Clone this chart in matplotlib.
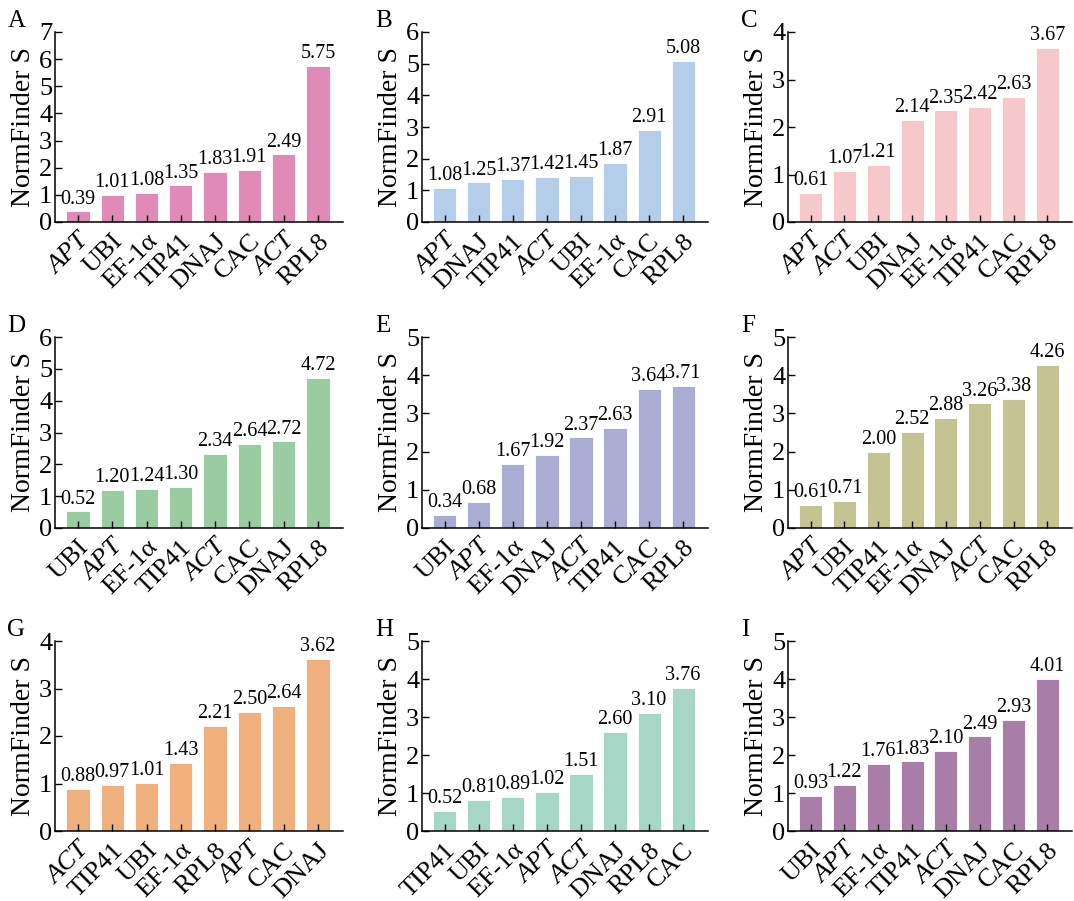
import matplotlib
matplotlib.use("Agg")
import matplotlib.pyplot as plt
from matplotlib.transforms import offset_copy

plt.rcParams['font.family'] = ['Liberation Serif', 'DejaVu Serif']
plt.rcParams['font.serif'] = ['Liberation Serif', 'DejaVu Serif']

panels = ['A', 'B', 'C', 'D', 'E', 'F', 'G', 'H', 'I']

genes_a = ['APT', 'UBI', 'EF-1α', 'TIP41', 'DNAJ', 'CAC', 'ACT', 'RPL8']
vals_a = [0.39, 1.01, 1.08, 1.35, 1.83, 1.91, 2.49, 5.75]
genes_b = ['APT', 'DNAJ', 'TIP41', 'ACT', 'UBI', 'EF-1α', 'CAC', 'RPL8']
vals_b = [1.08, 1.25, 1.37, 1.42, 1.45, 1.87, 2.91, 5.08]
genes_c = ['APT', 'ACT', 'UBI', 'DNAJ', 'EF-1α', 'TIP41', 'CAC', 'RPL8']
vals_c = [0.61, 1.07, 1.21, 2.14, 2.35, 2.42, 2.63, 3.67]
genes_d = ['UBI', 'APT', 'EF-1α', 'TIP41', 'ACT', 'CAC', 'DNAJ', 'RPL8']
vals_d = [0.52, 1.20, 1.24, 1.30, 2.34, 2.64, 2.72, 4.72]
genes_e = ['UBI', 'APT', 'EF-1α', 'DNAJ', 'ACT', 'TIP41', 'CAC', 'RPL8']
vals_e = [0.34, 0.68, 1.67, 1.92, 2.37, 2.63, 3.64, 3.71]
genes_f = ['APT', 'UBI', 'TIP41', 'EF-1α', 'DNAJ', 'ACT', 'CAC', 'RPL8']
vals_f = [0.61, 0.71, 2.00, 2.52, 2.88, 3.26, 3.38, 4.26]
genes_g = ['ACT', 'TIP41', 'UBI', 'EF-1α', 'RPL8', 'APT', 'CAC', 'DNAJ']
vals_g = [0.88, 0.97, 1.01, 1.43, 2.21, 2.50, 2.64, 3.62]
genes_h = ['TIP41', 'UBI', 'EF-1α', 'APT', 'ACT', 'DNAJ', 'RPL8', 'CAC']
vals_h = [0.52, 0.81, 0.89, 1.02, 1.51, 2.60, 3.10, 3.76]
genes_i = ['UBI', 'APT', 'EF-1α', 'TIP41', 'ACT', 'DNAJ', 'CAC', 'RPL8']
vals_i = [0.93, 1.22, 1.76, 1.83, 2.10, 2.49, 2.93, 4.01]

all_genes = [genes_a, genes_b, genes_c, genes_d, genes_e, genes_f, genes_g, genes_h, genes_i]
all_vals = [vals_a, vals_b, vals_c, vals_d, vals_e, vals_f, vals_g, vals_h, vals_i]
ymax = [7, 6, 4, 6, 5, 5, 4, 5, 5]
colors = ['#e08bb5', '#b4cde8', '#f6c8cb', '#9bcba1', '#aaacd4',
          '#c4c492', '#f0b07e', '#a6d6c5', '#a87ea8']
italic_genes = ['APT', 'ACT']

W, H = 1074, 901
lefts = [55, 422, 788]
rights = [343, 708, 1072]
tops = [32, 337, 641]
bottoms = [222, 528, 831]

fig = plt.figure(figsize=(W / 100, H / 100), dpi=100)

for k in range(9):
    r, c = divmod(k, 3)
    ax = fig.add_axes([lefts[c] / W, 1 - bottoms[r] / H,
                       (rights[c] - lefts[c]) / W, (bottoms[r] - tops[r]) / H])
    genes = all_genes[k]
    vals = all_vals[k]
    x = list(range(len(genes)))
    ax.bar(x, vals, width=0.68, color=colors[k], edgecolor='white', linewidth=0.6)
    for xi, v in zip(x, vals):
        ax.text(xi, v + ymax[k] * 0.015, f'{v:.2f}', ha='center', va='bottom', fontsize=14.5)
    ax.set_xlim(-0.67, 7.73)
    ax.set_ylim(0, ymax[k])
    ax.set_yticks(range(ymax[k] + 1))
    ax.set_xticks(x)
    ax.set_xticklabels([])
    # gene names: rotated, right edge a little past the tick
    lab_trans = offset_copy(ax.get_xaxis_transform(), fig=fig, x=15, y=-8, units='dots')
    for xi, g in zip(x, genes):
        ax.text(xi, 0, g, transform=lab_trans, rotation=45, ha='right', va='top',
                fontsize=19, style='italic' if g in italic_genes else 'normal')
    ax.tick_params(axis='y', direction='in', labelsize=19, length=5, width=1, pad=2)
    ax.tick_params(axis='x', direction='in', length=5, width=1)
    ax.spines['top'].set_visible(False)
    ax.spines['right'].set_visible(False)
    ax.spines['left'].set_linewidth(1.1)
    ax.spines['bottom'].set_linewidth(1.1)
    ax.set_ylabel('NormFinder S', fontsize=20, labelpad=2)
    ax.text(-0.165, 1.06, panels[k], transform=ax.transAxes, fontsize=18,
            ha='left', va='center')

fig.savefig('out.png', dpi=100)
